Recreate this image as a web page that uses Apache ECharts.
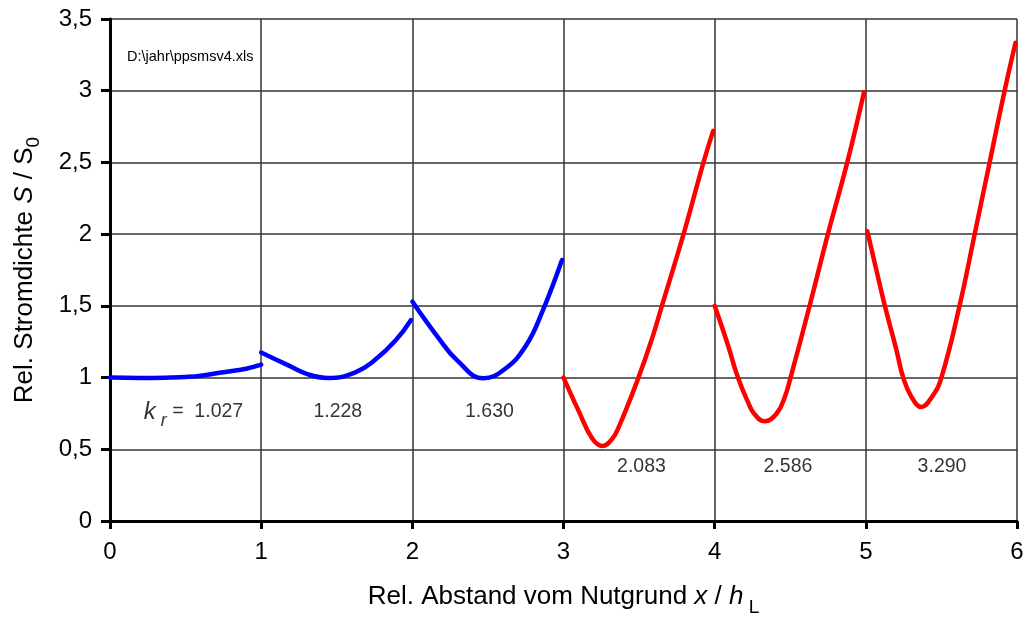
<!DOCTYPE html>
<html>
<head>
<meta charset="utf-8">
<script src="https://cdn.jsdelivr.net/npm/echarts@6/dist/echarts.min.js"></script>
<style>
  html, body { margin: 0; padding: 0; background: #fff; }
  #chart { width: 1027px; height: 617px; }
</style>
</head>
<body>
<div id="chart"></div>
<script>
// ---- data ----
const xTickLabels = ['0', '1', '2', '3', '4', '5', '6'];
const yTickLabels = ['0', '0,5', '1', '1,5', '2', '2,5', '3', '3,5'];

const seg1 = [[0, 1.0], [0.2, 0.997], [0.4, 1.0], [0.5, 1.004], [0.6, 1.013], [0.75, 1.037], [0.9, 1.062], [1.0, 1.09]];
const seg2 = [[1.0, 1.175], [1.18, 1.085], [1.31, 1.023], [1.445, 0.997], [1.62, 1.035], [1.75, 1.12], [1.89, 1.26], [1.99, 1.40]];
const seg3 = [[2.0, 1.53], [2.17, 1.28], [2.3, 1.116], [2.47, 0.995], [2.61, 1.058], [2.75, 1.22], [2.86, 1.46], [2.99, 1.82]];
const seg4 = [[3.0, 1.0], [3.1, 0.768], [3.19, 0.575], [3.258, 0.523], [3.32, 0.57], [3.364, 0.651], [3.496, 1.0], [3.585, 1.27], [3.651, 1.5], [3.794, 2.0], [3.926, 2.5], [3.99, 2.72]];
const seg5 = [[4.0, 1.5], [4.088, 1.225], [4.154, 1.0], [4.22, 0.83], [4.26, 0.75], [4.33, 0.695], [4.41, 0.75], [4.463, 0.862], [4.502, 1.0], [4.628, 1.5], [4.749, 2.0], [4.877, 2.5], [4.988, 2.99]];
const seg6 = [[5.01, 2.02], [5.07, 1.749], [5.126, 1.5], [5.203, 1.19], [5.247, 1.0], [5.302, 0.865], [5.367, 0.795], [5.44, 0.87], [5.5, 1.0], [5.62, 1.5], [5.72, 2.0], [5.819, 2.5], [5.918, 3.0], [5.99, 3.335]];

const krValues = ['1.027', '1.228', '1.630', '2.083', '2.586', '3.290'];
const krLabelX = [0.552, 1.507, 2.51, 3.516, 4.485, 5.504];
const krLabelY = [0.76, 0.76, 0.76, 0.382, 0.382, 0.382];
const fileNote = 'D:\\jahr\\ppsmsv4.xls';
// ---------------------------------------

const FONT = "'Liberation Sans', Arial, sans-serif";
const segments = [seg1, seg2, seg3, seg4, seg5, seg6];
const segColors = ['#0000FF', '#0000FF', '#0000FF', '#FF0000', '#FF0000', '#FF0000'];

const lineSeries = segments.map((d, i) => ({
  type: 'line',
  data: d,
  showSymbol: false,
  symbol: 'none',
  smooth: 0.45,
  lineStyle: { color: segColors[i], width: 4.5, cap: 'round', join: 'round' },
  silent: true,
  z: 3
}));

const labelData = krValues.map((v, i) => ({
  value: [krLabelX[i], krLabelY[i]],
  label: {
    formatter: i === 0 ? '{k|k}{r| r}{t| =  ' + v + '}' : '{t|' + v + '}'
  }
}));

const labelSeries = {
  type: 'scatter',
  data: labelData,
  symbolSize: 0,
  silent: true,
  z: 4,
  label: {
    show: true,
    position: 'inside',
    color: '#000',
    fontFamily: FONT,
    rich: {
      k: { fontFamily: FONT, fontSize: 24, fontStyle: 'italic', color: '#000', lineHeight: 36, verticalAlign: 'middle' },
      r: { fontFamily: FONT, fontSize: 18, fontStyle: 'italic', color: '#000', lineHeight: 16, verticalAlign: 'bottom' },
      t: { fontFamily: FONT, fontSize: 19.5, color: '#000', lineHeight: 36, verticalAlign: 'middle' }
    }
  }
};

const chart = echarts.init(document.getElementById('chart'), null, { renderer: 'canvas' });
chart.setOption({
  animation: false,
  backgroundColor: '#fff',
  title: {
    text: fileNote,
    left: 122,
    top: 44,
    textStyle: { fontFamily: FONT, fontSize: 14.5, fontWeight: 'normal', color: '#000' }
  },
  grid: { left: 110, right: 10, top: 19, bottom: 96, containLabel: false, outerBoundsMode: 'none' },
  xAxis: {
    type: 'value',
    min: 0, max: 6, interval: 1,
    name: '{n|Rel. Abstand vom Nutgrund }{i|x}{n| / }{i|h}{s| L}',
    nameLocation: 'middle',
    nameGap: 56,
    nameTextStyle: {
      rich: {
        n: { fontFamily: FONT, fontSize: 26, color: '#000', lineHeight: 40, verticalAlign: 'middle' },
        i: { fontFamily: FONT, fontSize: 26, fontStyle: 'italic', color: '#000', lineHeight: 40, verticalAlign: 'middle' },
        s: { fontFamily: FONT, fontSize: 19, color: '#000', lineHeight: 14, verticalAlign: 'bottom' }
      }
    },
    axisLine: { show: true, onZero: false, lineStyle: { color: '#000', width: 3 } },
    axisTick: { show: true, inside: false, length: 8, lineStyle: { color: '#000', width: 3 } },
    axisLabel: {
      fontFamily: FONT, fontSize: 24, color: '#000', margin: 19,
      formatter: (v) => xTickLabels[Math.round(v)]
    },
    splitLine: { show: true, showMinLine: true, showMaxLine: true, lineStyle: { color: '#333', width: 1.5 } }
  },
  yAxis: {
    type: 'value',
    min: 0, max: 3.5, interval: 0.5,
    name: '{n|Rel. Stromdichte }{i|S}{n| / S}{s|0}',
    nameLocation: 'middle',
    nameGap: 67,
    nameTextStyle: {
      rich: {
        n: { fontFamily: FONT, fontSize: 26, color: '#000', lineHeight: 36, verticalAlign: 'middle' },
        i: { fontFamily: FONT, fontSize: 26, fontStyle: 'italic', color: '#000', lineHeight: 36, verticalAlign: 'middle' },
        s: { fontFamily: FONT, fontSize: 19, color: '#000', lineHeight: 20, verticalAlign: 'bottom' }
      }
    },
    axisLine: { show: true, onZero: false, lineStyle: { color: '#000', width: 3 } },
    axisTick: { show: true, inside: false, length: 9, lineStyle: { color: '#000', width: 3 } },
    axisLabel: {
      fontFamily: FONT, fontSize: 24, color: '#000', margin: 18,
      formatter: (v) => yTickLabels[Math.round(v / 0.5)]
    },
    splitLine: { show: true, showMinLine: true, showMaxLine: true, lineStyle: { color: '#333', width: 1.5 } }
  },
  series: [...lineSeries, labelSeries]
});
</script>
</body>
</html>
